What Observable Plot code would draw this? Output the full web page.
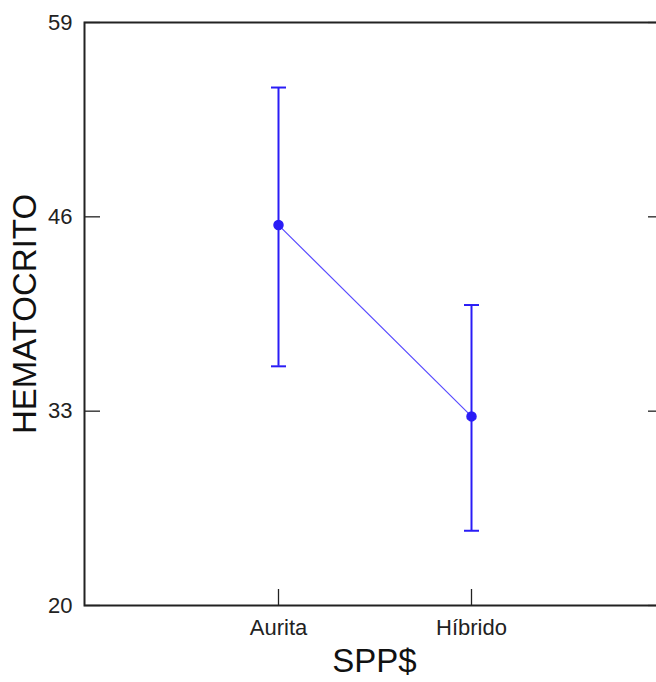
<!DOCTYPE html>
<html>
<head>
<meta charset="utf-8">
<script src="https://cdn.jsdelivr.net/npm/d3@7"></script>
<script src="https://cdn.jsdelivr.net/npm/@observablehq/plot@0.6"></script>
<style>
  html, body { margin: 0; padding: 0; background: #fff; }
  #chart svg { display: block; }
</style>
</head>
<body>
<div id="chart"></div>
<script>
// Data
const species = ["Aurita", "Híbrido"];
const means   = [45.45, 32.65];
const lower   = [36.0, 25.0];
const upper   = [54.65, 40.1];
const yTicks  = [20, 33, 46, 59];

const rows = species.map((s, i) => ({ s, m: means[i], lo: lower[i], hi: upper[i] }));
const blue = "#2a1cf6";
const tickLen = 16;
const frameW = 656 - 84 + 8;
const frameH = 682 - 22 - 77;

const capSymbol = {
  draw(context, size) {
    const hw = Math.sqrt(size / Math.PI);
    context.moveTo(-hw, 0);
    context.lineTo(hw, 0);
  }
};

const chart = Plot.plot({
  width: 656,
  height: 682,
  marginLeft: 84,
  marginRight: -8,
  marginTop: 22,
  marginBottom: 77,
  style: { fontFamily: "'Liberation Sans', Arial, sans-serif", background: "#fff", color: "#222", overflow: "hidden" },
  x: { type: "point", domain: species, padding: 1 },
  y: { domain: [20, 59] },
  marks: [
    Plot.axisY({ anchor: "left", ticks: yTicks, tickSize: 0, tickPadding: 12, fontSize: 22, label: null }),
    Plot.axisX({ anchor: "bottom", tickSize: 0, tickPadding: 14, fontSize: 22, label: null }),
    // inward tick marks
    Plot.tickY(yTicks, { y: d => d, insetRight: frameW - tickLen, stroke: "#222", strokeWidth: 1.3 }),
    Plot.tickY(yTicks, { y: d => d, insetLeft: frameW - tickLen, stroke: "#222", strokeWidth: 1.3 }),
    Plot.tickX(species, { x: d => d, insetTop: frameH - tickLen, stroke: "#222", strokeWidth: 1.3 }),
    Plot.frame({ stroke: "#222", strokeWidth: 2 }),
    Plot.line(rows, { x: "s", y: "m", stroke: "#5a4cff", strokeWidth: 1.2 }),
    Plot.ruleX(rows, { x: "s", y1: "lo", y2: "hi", stroke: blue, strokeWidth: 2 }),
    Plot.dot(rows, { x: "s", y: "lo", symbol: capSymbol, r: 7.5, stroke: blue, strokeWidth: 2, fill: "none" }),
    Plot.dot(rows, { x: "s", y: "hi", symbol: capSymbol, r: 7.5, stroke: blue, strokeWidth: 2, fill: "none" }),
    Plot.dot(rows, { x: "s", y: "m", r: 4.5, fill: blue, stroke: blue }),
    Plot.text(["SPP$"], { frameAnchor: "bottom", textAnchor: "middle", dy: 56, lineAnchor: "middle", fontSize: 33, fill: "#111" }),
    Plot.text(["HEMATOCRITO"], { frameAnchor: "left", textAnchor: "middle", dx: -59, rotate: -90, lineAnchor: "middle", fontSize: 33, fill: "#111", letterSpacing: 1 })
  ]
});

document.getElementById("chart").appendChild(chart);
</script>
</body>
</html>
